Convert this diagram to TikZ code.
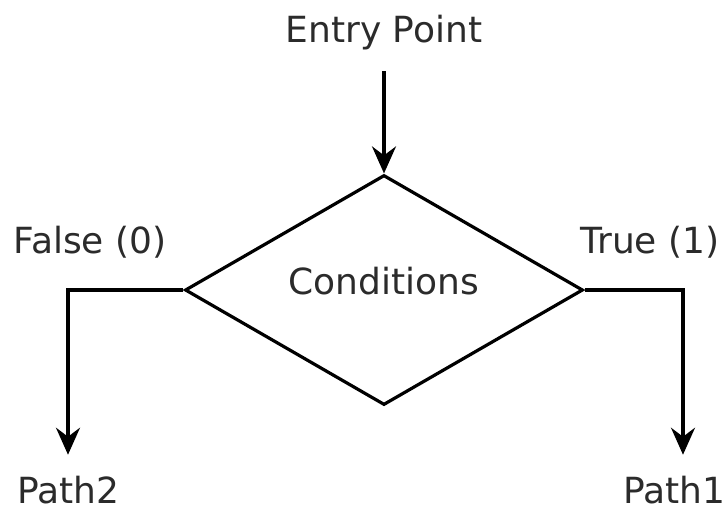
\documentclass[tikz,border=0pt]{standalone}
\usepackage{fontspec}
\setmainfont{DejaVu Sans}
\usepackage{xcolor}
\usetikzlibrary{shapes.geometric, positioning, arrows.meta}

\definecolor{ink}{HTML}{2B2B2B}

\begin{document}
\begin{tikzpicture} [x = 1pt, y = -1pt, font = \fontsize{36}{42}\selectfont,
        text = ink, line width = 3.2pt,
        arr/.style = {-{Stealth[length = 27pt, width = 24pt, inset = 9pt]}},
        decision/.style = {diamond, draw, inner sep = 0pt, aspect = 1.73,
            minimum width = 398pt, minimum height = 230pt, text depth = 18pt}]

        \useasboundingbox (0,0) rectangle (725,512);

        \node (cond) [decision] at (384,290) {Conditions};
        \node (entry) [anchor = base] at (384,42) {Entry Point};
        \node (false) [anchor = base] at (90,253) {False (0)};
        \node (true) [anchor = base] at (650,253) {True (1)};
        \node (path2) [anchor = base] at (68,503) {Path2};
        \node (path1) [anchor = base] at (674,503) {Path1};

        \path [arr]
            (entry) edge [shorten <= 17pt] (cond.north);
        \draw [arr, shorten >= 16pt] (cond.west) -| (path2.north);
        \draw [arr, shorten >= 16pt] (cond.east) -| ([xshift = 9pt]path1.north);

\end{tikzpicture}
\end{document}
